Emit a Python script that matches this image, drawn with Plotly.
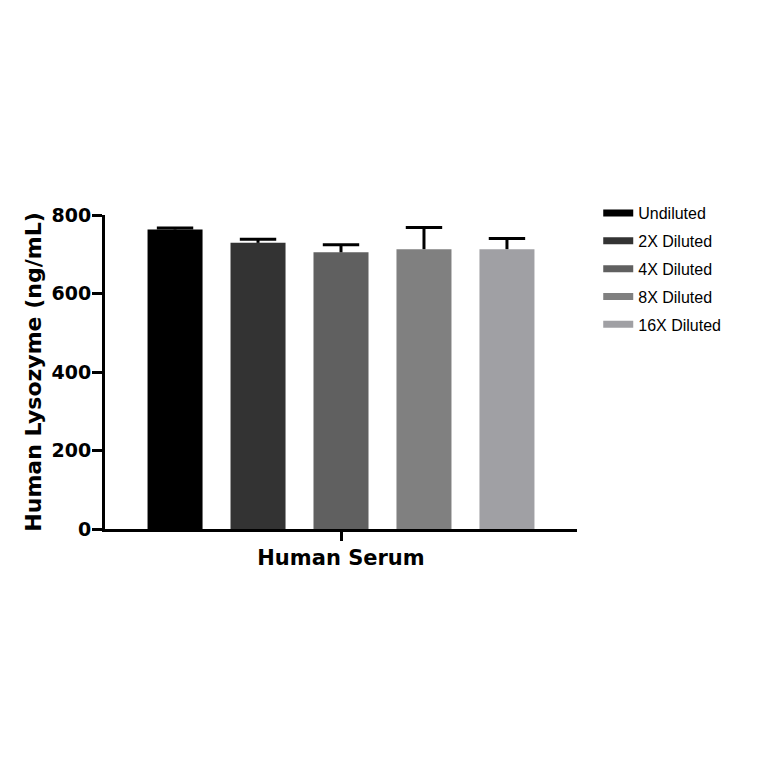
import plotly.graph_objects as go

category = ["Human Serum"]
series = ["Undiluted", "2X Diluted", "4X Diluted", "8X Diluted", "16X Diluted"]
means = [763, 729, 705, 713, 713]
sd_plus = [4, 9, 19, 55, 27]
colors = ["#000000", "#333333", "#606060", "#808080", "#a0a0a4"]

fig = go.Figure()

for i, (name, m, e, c) in enumerate(zip(series, means, sd_plus, colors)):
    fig.add_trace(go.Bar(
        x=category, y=[m], name=name, offsetgroup=str(i),
        marker=dict(color=c, line=dict(width=0)),
        showlegend=False,
    ))
    # upper-only error bar: stem down from the cap, no cap at the bar top
    fig.add_trace(go.Scatter(
        x=category, y=[m + e], mode="markers", offsetgroup=str(i),
        marker=dict(symbol="line-ew", size=26, color="black",
                    line=dict(width=3, color="black")),
        error_y=dict(type="data", symmetric=False, array=[0], arrayminus=[e],
                     color="black", thickness=3, width=0),
        showlegend=False, hoverinfo="skip",
    ))
    # line-style legend swatch like the original
    fig.add_trace(go.Scatter(
        x=[None], y=[None], mode="lines", name=name, legendgroup=name,
        line=dict(color=c, width=7),
    ))

fig.update_layout(
    width=764, height=764,
    paper_bgcolor="white", plot_bgcolor="white",
    margin=dict(l=97, r=195, t=207, b=243),
    barmode="group", bargap=0.121, bargroupgap=0.337,
    scattermode="group", scattergap=0.121,
    font=dict(family="DejaVu Sans, sans-serif", color="black"),
    legend=dict(x=1.045, y=1.06, xanchor="left", yanchor="top",
                font=dict(family="Liberation Sans, Arial, sans-serif", size=16),
                tracegroupgap=4, itemwidth=30),
    xaxis=dict(
        showline=True, linecolor="black", linewidth=3,
        ticks="outside", ticklen=9, tickwidth=3, tickcolor="black",
        showticklabels=False, showgrid=False,
        title=dict(text="Human Serum", standoff=11,
                   font=dict(size=21, weight="bold")),
    ),
    yaxis=dict(
        range=[0, 800], tickvals=[0, 200, 400, 600, 800],
        showline=True, linecolor="black", linewidth=3,
        ticks="outside", ticklen=10, tickwidth=3, tickcolor="black",
        showgrid=False, zeroline=False, ticklabelstandoff=-3,
        tickfont=dict(size=19, weight="bold"),
        title=dict(text="Human Lysozyme (ng/mL)", standoff=4,
                   font=dict(size=22, weight="bold")),
    ),
)

fig.write_html("out.html")
